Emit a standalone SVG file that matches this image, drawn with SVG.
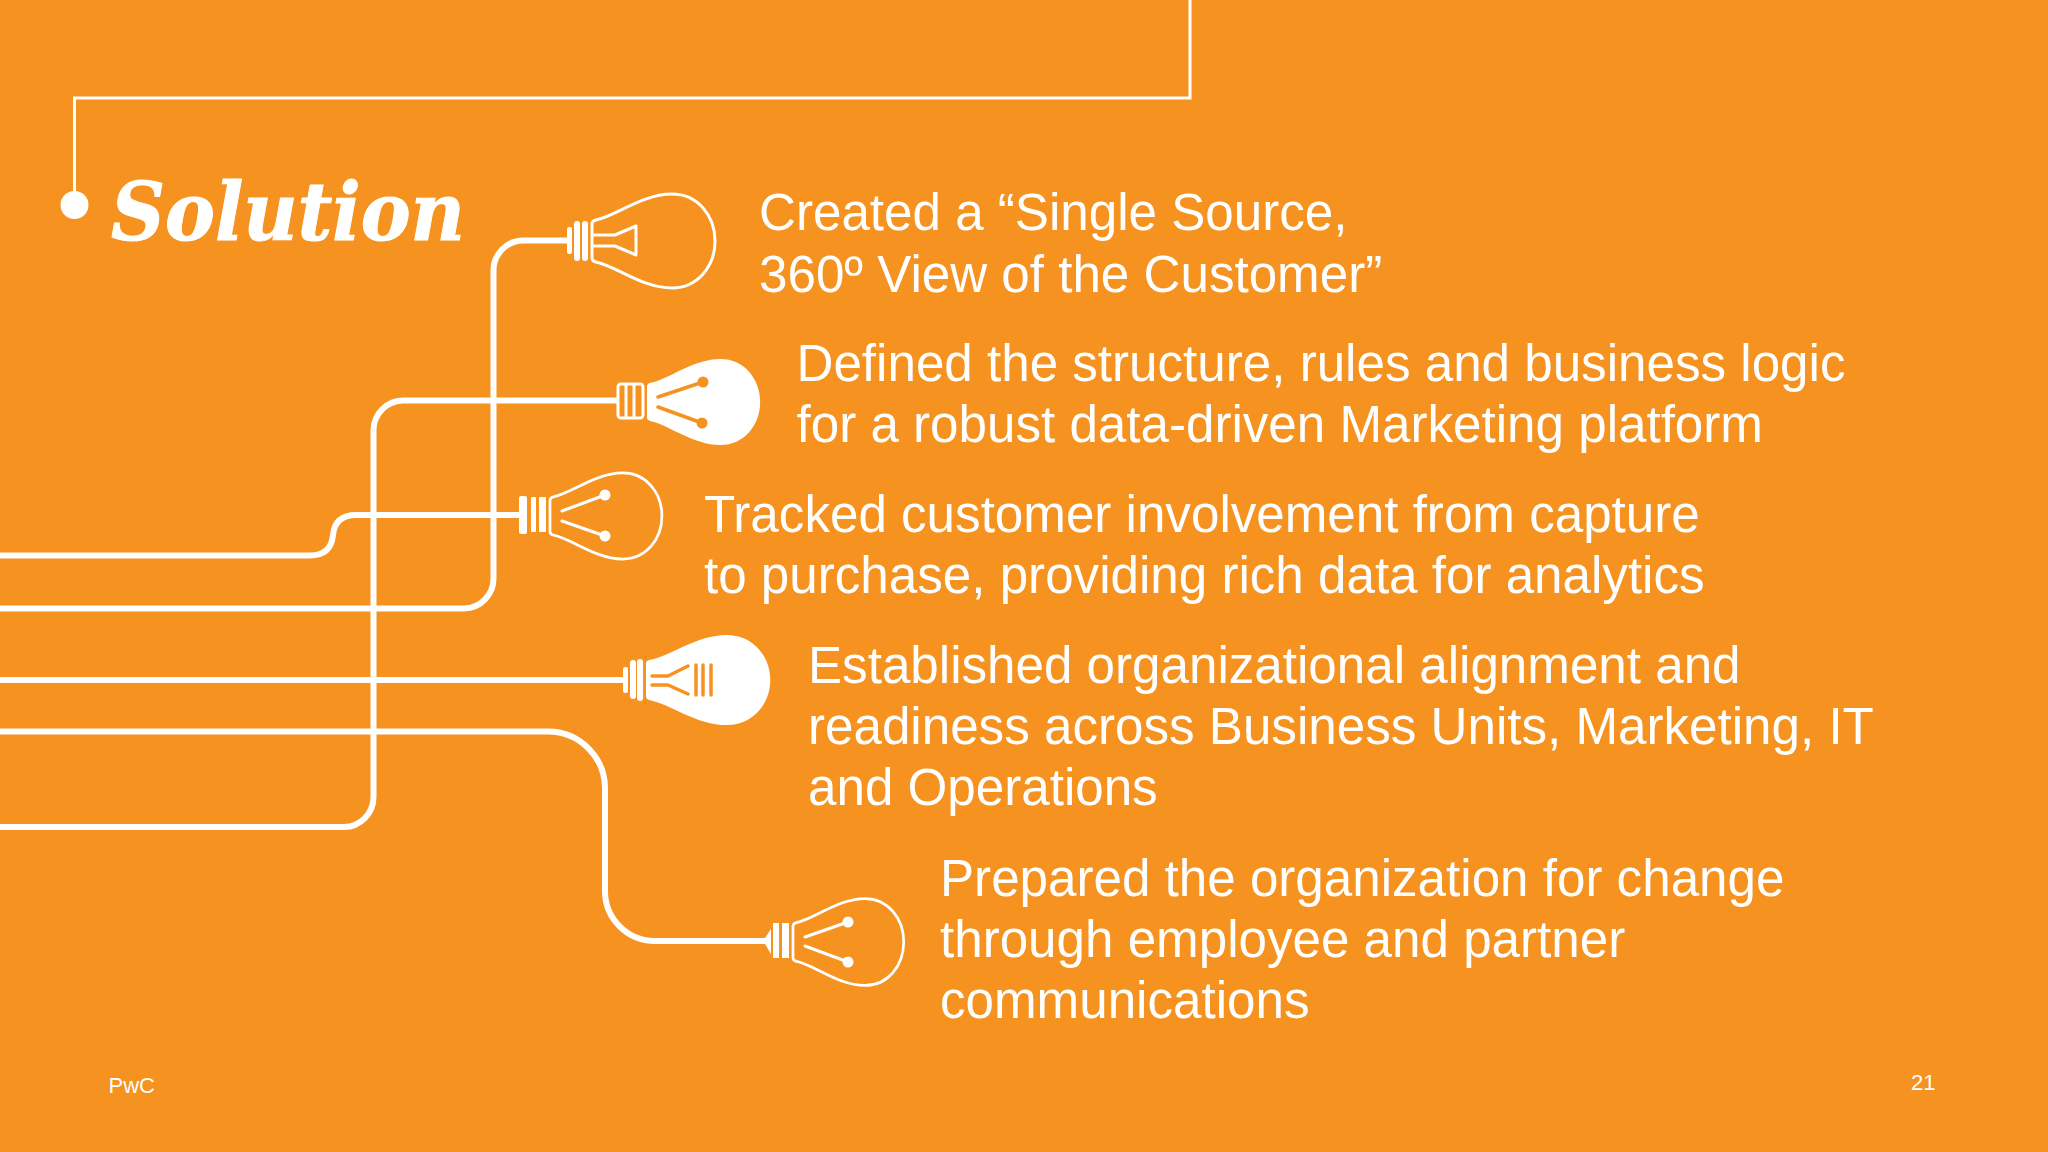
<svg xmlns="http://www.w3.org/2000/svg" width="2048" height="1152" viewBox="0 0 2048 1152">
<style>
.t{font-family:"Liberation Sans",Arial,sans-serif;font-size:51.15px;fill:#fff}
.s{font-family:"Liberation Sans",Arial,sans-serif;font-size:22px;fill:#fff}
.h{font-family:"DejaVu Serif",Georgia,serif;font-size:80px;font-weight:bold;font-style:italic;fill:#fff;stroke:#fff;stroke-width:1}
.c{fill:none;stroke:#fff;stroke-width:6}
.f{fill:none;stroke:#fff;stroke-width:3;stroke-linecap:round;stroke-linejoin:round}
.o{fill:none;stroke:#F6921F;stroke-width:3.5;stroke-linecap:round;stroke-linejoin:round}
.w{fill:#fff}.d{fill:#F6921F}
.b{vector-effect:non-scaling-stroke;stroke-linejoin:round}
.l{fill:none;stroke:#fff;stroke-width:3}
</style>
<defs>
<path id="bulb" d="M0,-17 Q0,-20 4,-21 C24,-25 50,-47 80,-47 C105,-47 123,-26 123,0 C123,26 105,47 80,47 C50,47 24,25 4,21 Q0,20 0,17 Z"/>
</defs>
<rect width="2048" height="1152" fill="#F6921F"/>
<g id="connectors">
<path d="M74.5,205 V98 H1190 V0" class="l"/>
<path class="c" d="M0,608.500 H464 A30,30 0 0 0 493.500,578 V270 A30,30 0 0 1 524,240.500 H570"/>
<path class="c" d="M0,827 H344 A30,30 0 0 0 373.500,797 V430 A30,30 0 0 1 404,400.500 H617"/>
<path class="c" d="M0,555.500 H310 Q331,555.500 333,535 Q335,515 356,515 H522"/>
<path class="c" d="M0,680 H625"/>
<path class="c" d="M0,731.500 H548 A57,57 0 0 1 605,788 V891 A50,50 0 0 0 655,941 H768"/>
</g>
<g id="title">
<circle cx="74.5" cy="205" r="14" class="w"/>
<text x="111" y="240" class="h" textLength="354" lengthAdjust="spacingAndGlyphs">Solution</text>
</g>
<g id="node-1">
<rect x="567" y="227" width="5" height="27" rx="2" class="w"/>
<rect x="574" y="221" width="6" height="40" rx="3" class="w"/>
<rect x="582" y="221" width="6" height="40" rx="3" class="w"/>
<use href="#bulb" transform="translate(592,241)" class="f b"/>
<path class="f" d="M593,235 H615 L636,226 V255 L615,246 H593"/>
<text class="t"><tspan x="759" y="230">Created a “Single Source,</tspan><tspan x="759" y="291.500">360º View of the Customer”</tspan></text>
</g>
<g id="node-2">
<rect x="618" y="384" width="25" height="34" rx="3" class="f"/>
<path class="f" d="M626,385 V417 M634,385 V417"/>
<use href="#bulb" transform="translate(647,402) scale(.92,.915)" class="w"/>
<path class="o" d="M658,397 L703,382 M658,407 L702,423"/>
<circle cx="703" cy="382" r="5.5" class="d"/><circle cx="702" cy="423" r="5.5" class="d"/>
<text class="t"><tspan x="796.500" y="381">Defined the structure, rules and business logic</tspan><tspan x="796.500" y="442">for a robust data-driven Marketing platform</tspan></text>
</g>
<g id="node-3">
<rect x="519" y="496" width="8" height="38" rx="2" class="w"/>
<rect x="531" y="497" width="5" height="35" rx="1" class="w"/>
<rect x="539" y="497" width="7" height="35" rx="1" class="w"/>
<use href="#bulb" transform="translate(550,516) scale(.91,.915)" class="f b"/>
<path class="f" d="M562,511 L605,495 M562,521 L605,536"/>
<circle cx="605" cy="495" r="5.5" class="w"/><circle cx="605" cy="536" r="5.5" class="w"/>
<text class="t"><tspan x="704" y="532">Tracked customer involvement from capture</tspan><tspan x="704" y="593">to purchase, providing rich data for analytics</tspan></text>
</g>
<g id="node-4">
<rect x="623" y="667" width="5" height="26" rx="2" class="w"/>
<rect x="630" y="660" width="6" height="39" rx="3" class="w"/>
<rect x="637" y="659" width="6" height="42" rx="3" class="w"/>
<use href="#bulb" transform="translate(646,680) scale(1.01,.96)" class="w"/>
<path class="o" d="M652,676 H668 L688,666 M652,685 H668 L688,694 M696,665 V695 M703,665 V695 M711,665 V695"/>
<text class="t"><tspan x="808" y="682.500">Established organizational alignment and</tspan><tspan x="808" y="744">readiness across Business Units, Marketing, IT</tspan><tspan x="808" y="805">and Operations</tspan></text>
</g>
<g id="node-5">
<path class="w" d="M765,938 L771,929 V954 L765,944 Z"/>
<rect x="773" y="923" width="6" height="35" class="w"/>
<rect x="782" y="923" width="7" height="35" class="w"/>
<use href="#bulb" transform="translate(793,942) scale(.9,.925)" class="f b"/>
<path class="f" d="M805,937 L848,922 M805,946 L848,962"/>
<circle cx="848" cy="922" r="5.5" class="w"/><circle cx="848" cy="962" r="5.5" class="w"/>
<text class="t"><tspan x="940" y="895.500">Prepared the organization for change</tspan><tspan x="940" y="957">through employee and partner</tspan><tspan x="940" y="1018">communications</tspan></text>
</g>
<g id="footer">
<text x="108.5" y="1092.500" class="s">PwC</text>
<text x="1911" y="1089.500" class="s">21</text>
</g>
</svg>
